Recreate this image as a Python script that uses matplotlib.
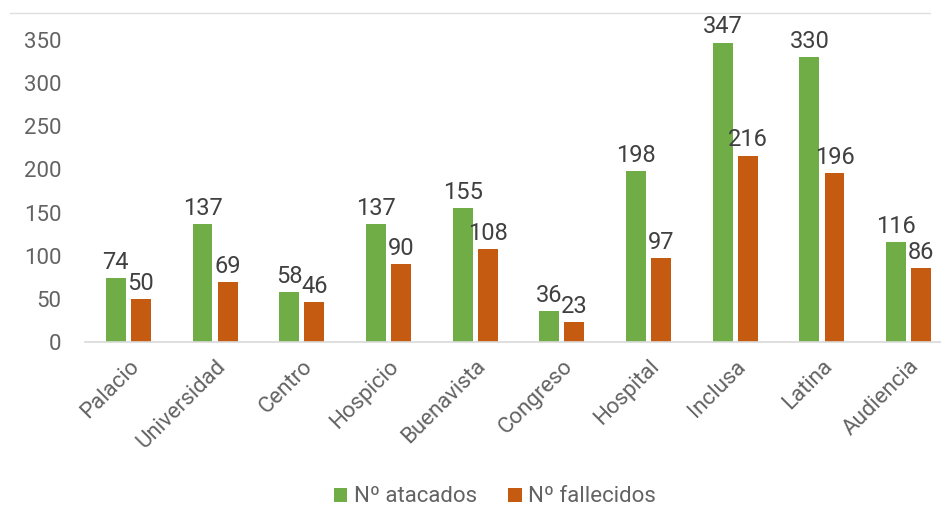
import matplotlib.pyplot as plt
import numpy as np

plt.rcParams['font.family'] = ['Roboto', 'DejaVu Sans']

distritos = ["Palacio", "Universidad", "Centro", "Hospicio", "Buenavista",
             "Congreso", "Hospital", "Inclusa", "Latina", "Audiencia"]
atacados = [74, 137, 58, 137, 155, 36, 198, 347, 330, 116]
fallecidos = [50, 69, 46, 90, 108, 23, 97, 216, 196, 86]
yticks = [0, 50, 100, 150, 200, 250, 300, 350]

verde = "#70AD47"
naranja = "#C55A11"


def main():
    fig = plt.figure(figsize=(9.41, 5.09), dpi=100)
    # axes pasa un poco del borde derecho, como en la imagen recortada
    ax = fig.add_axes([85 / 941, (509 - 342) / 509, 867 / 941, 302 / 509])

    x = np.arange(len(distritos))
    w = 0.23
    off = 0.145
    b1 = ax.bar(x - off, atacados, w, color=verde, label="Nº atacados")
    b2 = ax.bar(x + off, fallecidos, w, color=naranja, label="Nº fallecidos")

    for bars in (b1, b2):
        for r in bars:
            ax.annotate(str(int(r.get_height())),
                        (r.get_x() + r.get_width() / 2, r.get_height()),
                        xytext=(0, 3), textcoords="offset points",
                        ha="center", va="bottom", fontsize=17,
                        color="#404040", annotation_clip=False)

    ax.set_xlim(-0.5, len(distritos) - 0.5)
    ax.set_ylim(0, 350)
    ax.set_yticks(yticks)
    ax.set_xticks(x)
    ax.set_xticklabels(distritos, rotation=45, ha="right",
                       rotation_mode="anchor")
    ax.tick_params(axis="both", length=0, labelsize=16, colors="#636363")
    ax.tick_params(axis="y", pad=17)
    ax.tick_params(axis="x", pad=10)

    for s in ["top", "right", "left"]:
        ax.spines[s].set_visible(False)
    ax.spines["bottom"].set_color("#D9D9D9")
    ax.spines["bottom"].set_linewidth(1.2)

    # linea fina arriba de la figura
    fig.add_artist(plt.Line2D([10 / 941, 930 / 941], [1 - 13 / 509, 1 - 13 / 509],
                              color="#E0E0E0", linewidth=1))

    leg = fig.legend(loc="center", bbox_to_anchor=(495 / 941, 1 - 497 / 509),
                     ncol=2, frameon=False, fontsize=16, handlelength=0.6,
                     handleheight=0.6, handletextpad=0.3, columnspacing=1.4)
    for t in leg.get_texts():
        t.set_color("#636363")

    plt.savefig("out.png", dpi=100)
    plt.close()


if __name__ == "__main__":
    main()
